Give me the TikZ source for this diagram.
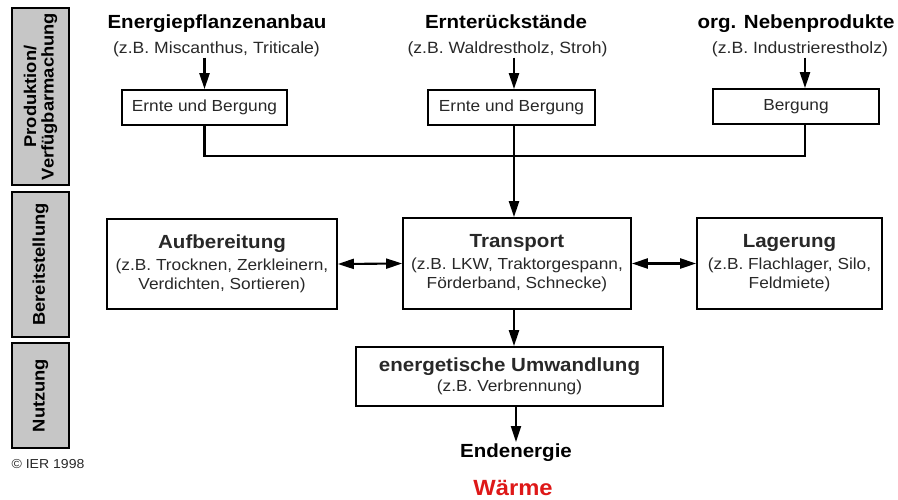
\documentclass[tikz,border=0pt]{standalone}
\usepackage{fontspec}
\setmainfont{Liberation Sans}[FakeStretch=1.08]
\usetikzlibrary{arrows.meta, calc}

\definecolor{sidegray}{RGB}{198,198,198}
\definecolor{waermered}{RGB}{222,24,24}
\definecolor{textgray}{RGB}{40,40,40}

\tikzset{
  box/.style={draw, line width=1.7pt, inner sep=0pt, align=center, text=textgray,
    font=\fontsize{16}{19.5}\selectfont},
  side/.style={draw, line width=1.6pt, fill=sidegray, rotate=90, align=center,
    minimum height=57pt, inner sep=0pt, font=\bfseries\fontsize{17}{17.5}\selectfont},
  head/.style={anchor=base, inner sep=1pt, font=\bfseries\fontsize{19}{22}\selectfont},
  sub/.style={anchor=base, inner sep=1pt, text=textgray, font=\fontsize{16.3}{19}\selectfont},
  conn/.style={line width=2.1pt},
  >={Triangle[length=16pt,width=10pt]}
}

\begin{document}
\begin{tikzpicture}[x=1pt, y=-1pt]

    \useasboundingbox (0,0) rectangle (898,499);

    % Draw the side bars
    \node[side, minimum width=177pt] (prod) at (40.5, 96.5) {Produktion/\\Verfügbarmachung};
    \node[side, minimum width=145pt] (bereit) at (40.5, 264.5) {Bereitstellung};
    \node[side, minimum width=105pt] (nutz) at (40.5, 395.5) {Nutzung};
    \node[anchor=base, inner sep=0pt, text=textgray, font=\fontsize{13}{13}\selectfont] (copy) at (48, 468) {© IER 1998};

    % Draw the sources
    \node[head] (src1) at (217, 28) {Energiepflanzenanbau};
    \node[sub] (sub1) at (216.5, 53) {(z.B. Miscanthus, Triticale)};
    \node[head] (src2) at (506, 28) {Ernterückstände};
    \node[sub] (sub2) at (507.5, 53) {(z.B. Waldrestholz, Stroh)};
    \node[head] (src3) at (796, 28) {org. Nebenprodukte};
    \node[sub] (sub3) at (800, 53) {(z.B. Industrierestholz)};

    % Draw the harvest boxes
    \node[box, minimum width=165pt, minimum height=35pt] (ernte1) at (204.5, 107.5) {Ernte und Bergung};
    \node[box, minimum width=167pt, minimum height=35pt] (ernte2) at (511.5, 107.5) {Ernte und Bergung};
    \node[box, minimum width=166pt, minimum height=35pt] (berg) at (796, 106.5) {Bergung};

    % Add coordinates
    \coordinate (join) at (514, 156);
    \coordinate (b3) at (805, 0);

    % Draw the arrows from the sources
    \draw[conn,->] (sub1.south -| ernte1.north) -- (ernte1.north);
    \draw[conn,->] (sub2.south -| join) -- (ernte2.north -| join);
    \draw[conn,->] (sub3.south -| b3) -- (berg.north -| b3);

    % Draw the collecting line
    \draw[conn] (ernte1.south) |- (join) -| (berg.south -| b3);

    % Draw the supply boxes
    \node[box, minimum width=230pt, minimum height=90pt] (aufb) at (222, 264)
      {{\bfseries\fontsize{19}{22}\selectfont Aufbereitung}\\[2pt](z.B. Trocknen, Zerkleinern,\\Verdichten, Sortieren)};
    \node[box, minimum width=228pt, minimum height=91pt] (transport) at (517, 263.5)
      {{\bfseries\fontsize{19}{22}\selectfont Transport}\\[2pt](z.B. LKW, Traktorgespann,\\Förderband, Schnecke)};
    \node[box, minimum width=185pt, minimum height=91pt] (lager) at (789.5, 263.5)
      {{\bfseries\fontsize{19}{22}\selectfont Lagerung}\\[2pt](z.B. Flachlager, Silo,\\Feldmiete)};

    \draw[conn,->] (ernte2.south -| join) -- (transport.north -| join);
    \draw[conn,<->] (aufb.east) -- (transport.west);
    \draw[conn,<->] (transport.east) -- (lager.west);

    % Draw the conversion
    \node[box, minimum width=307pt, minimum height=59pt] (umw) at (509.5, 376.5)
      {{\bfseries\fontsize{19}{22}\selectfont energetische Umwandlung}\\[1pt](z.B. Verbrennung)};
    \draw[conn,->] (transport.south -| join) -- (umw.north -| join);

    \node[head] (endenergie) at (516, 457) {Endenergie};
    \node[head, text=waermered, font=\bfseries\fontsize{22}{24}\selectfont] (waerme) at (513, 495) {Wärme};
    \draw[conn,->] (umw.south -| endenergie.north) -- (endenergie.north);

\end{tikzpicture}
\end{document}
